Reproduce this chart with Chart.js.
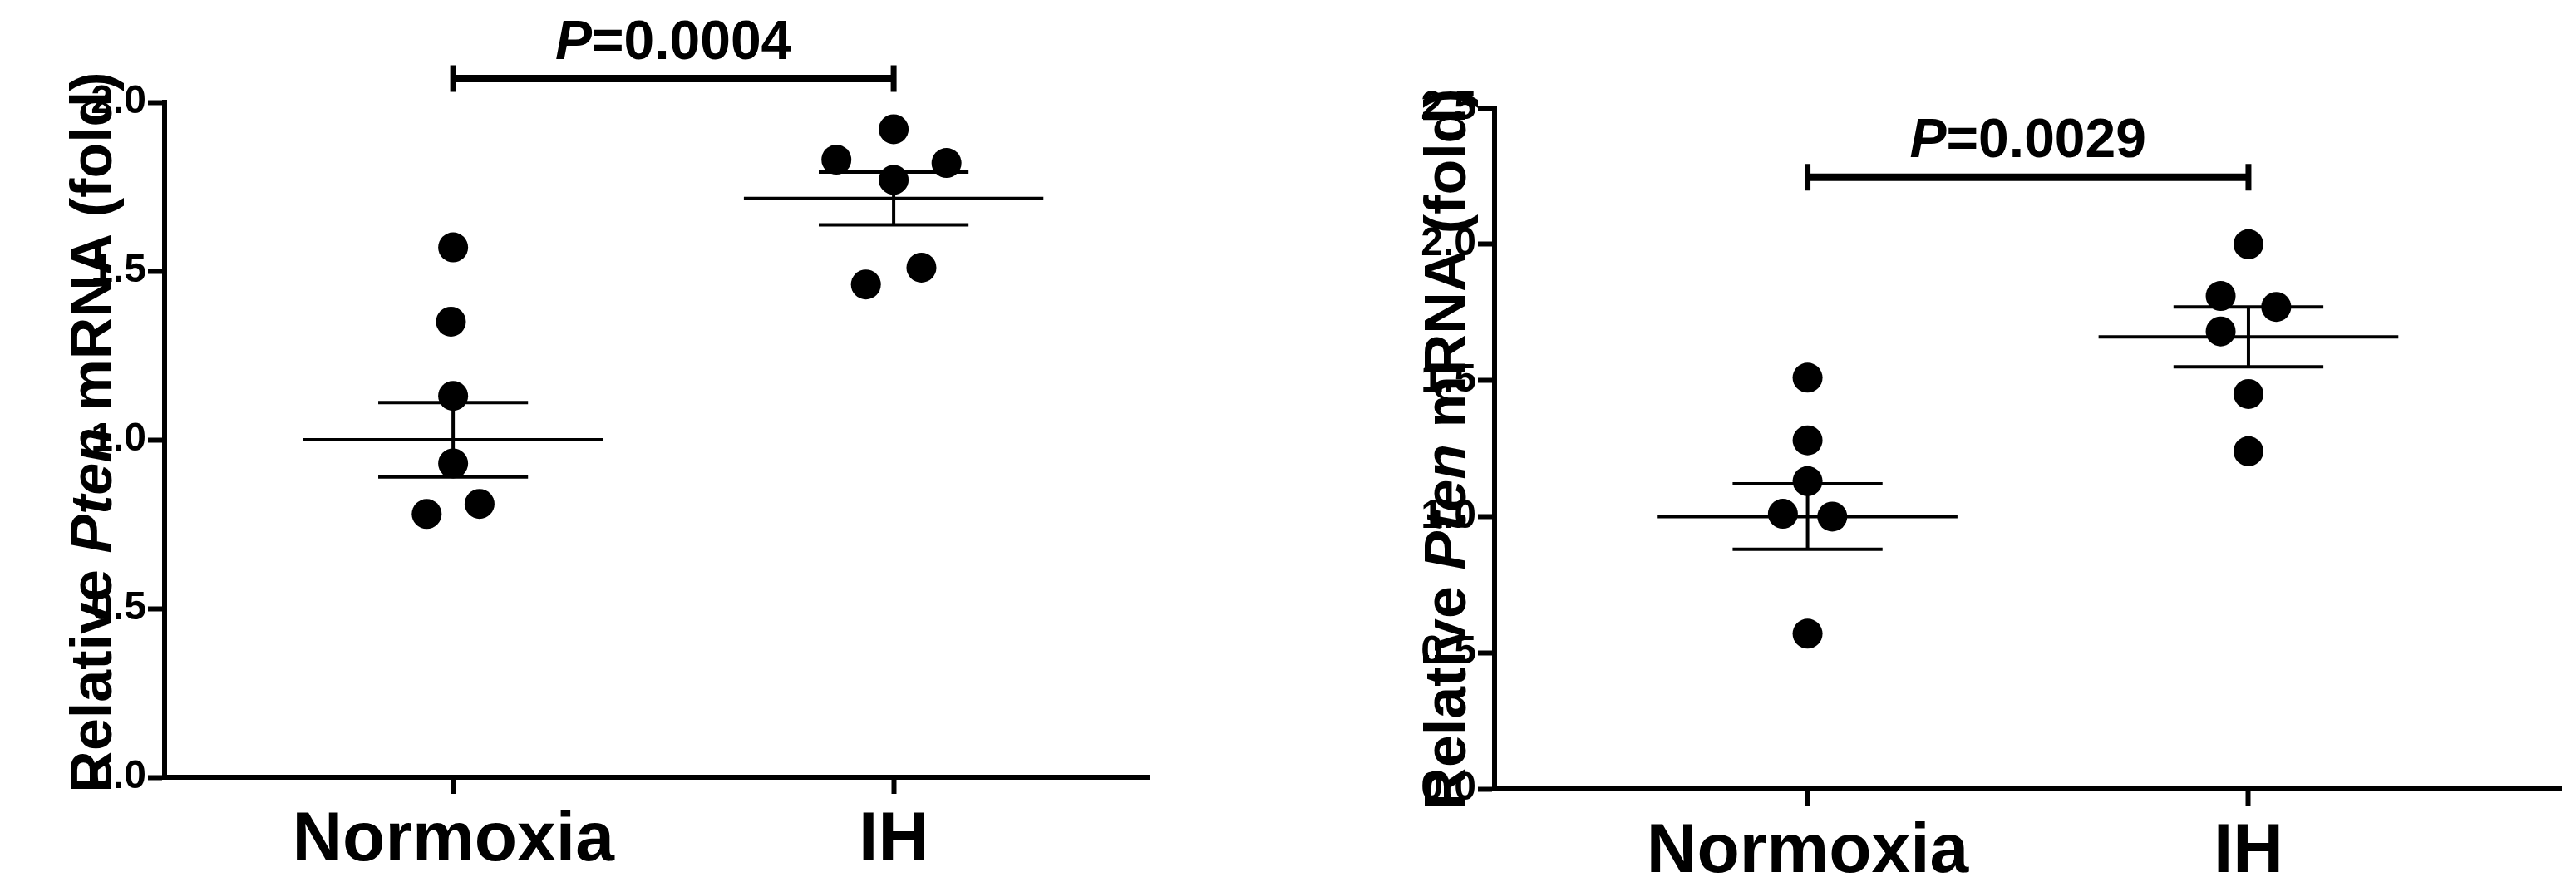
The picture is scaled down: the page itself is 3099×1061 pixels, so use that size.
<!DOCTYPE html>
<html><head><meta charset="utf-8">
<script src="https://cdn.jsdelivr.net/npm/chart.js@4/dist/chart.umd.min.js"></script>
<style>body{margin:0;background:#fff;width:3099px;height:1061px;overflow:hidden}canvas{position:absolute;top:0}</style>
</head><body>
<div id="a" style="position:absolute;left:0;top:0;width:1549px;height:1061px"><canvas id="c1"></canvas></div>
<div id="b" style="position:absolute;left:1549px;top:0;width:1550px;height:1061px"><canvas id="c2"></canvas></div>
<script>
const categories = ["Normoxia", "IH"];
// Left panel
const leftNormoxia = [1.57, 1.35, 1.13, 0.93, 0.78, 0.81];
const leftNormoxiaJitter = [0, -0.005, 0, 0, -0.06, 0.06];
const leftIH = [1.92, 1.83, 1.82, 1.77, 1.51, 1.46];
const leftIHJitter = [0, -0.13, 0.12, 0, 0.063, -0.063];
const leftMean = [1.0, 1.715];
const leftSEM = [0.11, 0.078];
const leftP = "0.0004";
const leftPBracket = 2.07;
const leftYTicks = [0, 0.5, 1.0, 1.5, 2.0];
// Right panel
const rightNormoxia = [1.51, 1.28, 1.13, 1.01, 1.0, 0.57];
const rightNormoxiaJitter = [0, 0, 0, -0.056, 0.056, 0];
const rightIH = [2.0, 1.81, 1.77, 1.68, 1.45, 1.24];
const rightIHJitter = [0, -0.063, 0.063, -0.063, 0, 0];
const rightMean = [1.0, 1.66];
const rightSEM = [0.12, 0.11];
const rightP = "0.0029";
const rightPBracket = 2.246;
const rightYTicks = [0, 0.5, 1.0, 1.5, 2.0, 2.5];

const NARROW = '"Liberation Sans Narrow", "Arial Narrow", "Liberation Sans", sans-serif';
const SANS = '"Liberation Sans", Arial, sans-serif';

function makeChart(id, groups, jitters, means, sems, pText, pY, yTicks, geo) {
  const ds = [];
  const pts = [];
  groups.forEach((g, gi) => g.forEach((v, i) => pts.push({x: gi + 1 + jitters[gi][i], y: v})));
  ds.push({type: 'scatter', data: pts, pointRadius: 18, pointHoverRadius: 18, backgroundColor: '#000', borderWidth: 0});
  means.forEach((m, gi) => {
    const c = gi + 1, s = sems[gi];
    const seg = (d) => ds.push({type: 'line', data: d, borderColor: '#000', borderWidth: 4, pointRadius: 0, fill: false});
    seg([{x: c - 0.34, y: m}, {x: c + 0.34, y: m}]);
    seg([{x: c - 0.17, y: m + s}, {x: c + 0.17, y: m + s}]);
    seg([{x: c - 0.17, y: m - s}, {x: c + 0.17, y: m - s}]);
    seg([{x: c, y: m - s}, {x: c, y: m + s}]);
  });
  const overlay = {
    id: 'overlay',
    afterDraw(chart) {
      const ctx = chart.ctx, xs = chart.scales.x, ys = chart.scales.y;
      const x1 = xs.getPixelForValue(1), x2 = xs.getPixelForValue(2), yb = ys.getPixelForValue(pY);
      ctx.save();
      ctx.strokeStyle = '#000'; ctx.lineWidth = 9; ctx.lineCap = 'butt';
      ctx.beginPath(); ctx.moveTo(x1, yb); ctx.lineTo(x2, yb); ctx.stroke();
      ctx.lineWidth = 7;
      ctx.beginPath(); ctx.moveTo(x1, yb - 16); ctx.lineTo(x1, yb + 16); ctx.moveTo(x2, yb - 16); ctx.lineTo(x2, yb + 16); ctx.stroke();
      ctx.fillStyle = '#000'; ctx.textBaseline = 'alphabetic';
      const f1 = 'italic bold 66px ' + NARROW, f2 = 'bold 66px ' + NARROW;
      ctx.font = f1; const w1 = ctx.measureText('P').width;
      ctx.font = f2; const w2 = ctx.measureText('=' + pText).width;
      const cx = (x1 + x2) / 2, start = cx - (w1 + w2) / 2, ty = yb - 24;
      ctx.font = f1; ctx.fillText('P', start, ty);
      ctx.font = f2; ctx.fillText('=' + pText, start + w1, ty);
      const parts = [['Relative ', 'bold 70px ' + SANS], ['Pten', 'italic bold 70px ' + SANS], [' mRNA (fold)', 'bold 70px ' + SANS]];
      let tot = 0; parts.forEach(p => { ctx.font = p[1]; tot += ctx.measureText(p[0]).width; });
      ctx.translate(geo.titleX, geo.titleC);
      ctx.rotate(-Math.PI / 2);
      let px = -tot / 2;
      parts.forEach(p => { ctx.font = p[1]; ctx.fillText(p[0], px, 0); px += ctx.measureText(p[0]).width; });
      ctx.restore();
    }
  };
  return new Chart(document.getElementById(id), {
    data: {datasets: ds},
    plugins: [overlay],
    options: {
      responsive: true, maintainAspectRatio: false, animation: false,
      layout: {padding: {left: 0, right: geo.padRight, top: geo.top, bottom: 0}},
      plugins: {legend: {display: false}, tooltip: {enabled: false}},
      scales: {
        x: {type: 'linear', min: geo.xmin, max: geo.xmax,
          afterBuildTicks: s => { s.ticks = [{value: 1}, {value: 2}]; },
          afterFit: s => { s.height = geo.xH; },
          ticks: {callback: v => categories[v - 1], color: '#000', font: {family: NARROW, weight: 'bold', size: 84}, padding: 6, autoSkip: false, maxRotation: 0},
          grid: {drawOnChartArea: false, tickLength: 20, tickWidth: 6, tickColor: '#000'},
          border: {color: '#000', width: 6}},
        y: {min: 0, max: yTicks[yTicks.length - 1],
          afterBuildTicks: s => { s.ticks = yTicks.map(v => ({value: v})); },
          afterFit: s => { s.width = geo.yW; },
          ticks: {callback: v => v.toFixed(1), color: '#000', font: {family: NARROW, weight: 'bold', size: 48}, padding: 2},
          grid: {drawOnChartArea: false, tickLength: 20, tickWidth: 6, tickColor: '#000'},
          border: {color: '#000', width: 6}}
      }
    }
  });
}

makeChart('c1', [leftNormoxia, leftIH], [leftNormoxiaJitter, leftIHJitter], leftMean, leftSEM, leftP, leftPBracket, leftYTicks,
  {padRight: 166, top: 123, xH: 126, yW: 198, xmin: 0.345, xmax: 2.581, titleX: 134, titleC: 520});
makeChart('c2', [rightNormoxia, rightIH], [rightNormoxiaJitter, rightIHJitter], rightMean, rightSEM, rightP, rightPBracket, rightYTicks,
  {padRight: 7, top: 130, xH: 112, yW: 249, xmin: 0.29, xmax: 2.709, titleX: 214, titleC: 540});
</script>
</body></html>
